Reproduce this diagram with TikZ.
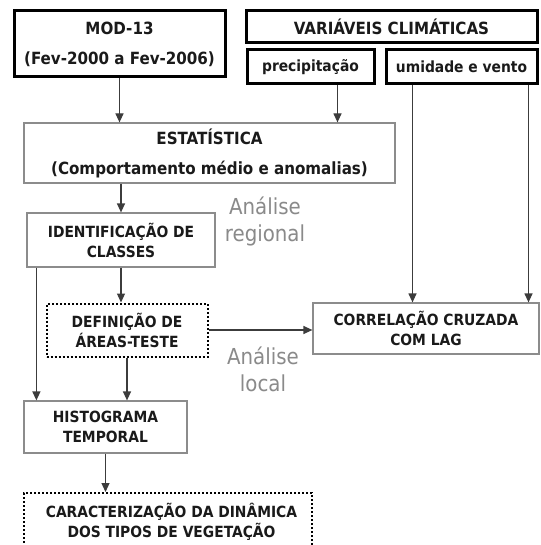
\documentclass[tikz,border=0pt]{standalone}
\usepackage{fontspec}
\setmainfont{DejaVu Sans Condensed}[BoldFont={DejaVu Sans Condensed Bold}]
\usetikzlibrary{arrows.meta}
\definecolor{txt}{HTML}{1A1A1A}
\definecolor{edge}{HTML}{8C8C8C}
\definecolor{arrow}{HTML}{3C3C3C}
\definecolor{note}{HTML}{8A8A8A}

\begin{document}
\begin{tikzpicture}[x=1pt,y=-1pt,
		box/.style={inner sep=0pt,align=center,text=txt,font=\bfseries\fontsize{15.4}{20}\selectfont},
		big/.style={font=\bfseries\fontsize{16.8}{20}\selectfont},
		thickbox/.style={box,draw=black,line width=3pt},
		thinbox/.style={box,draw=edge,line width=1.2pt},
		dotbox/.style={box,draw=black,line width=2pt,dotted},
		arr/.style={draw=arrow,line width=1.2pt,-{Triangle[length=9pt,width=8pt]}},
		note/.style={align=center,text=note,font=\fontsize{22}{27}\selectfont}]
		\useasboundingbox (0,0) rectangle (540,545);
		\fill[white] (0,0) rectangle (540,545);
		%
		\node[thickbox,big,minimum width=211pt,minimum height=66pt] (M) at (119.5,44) {MOD-13\\[10pt](Fev-2000 a Fev-2006)};
		\node[thickbox,big,minimum width=291pt,minimum height=32pt] (V) at (391.5,26.5) {VARIÁVEIS CLIMÁTICAS};
		\node[thickbox,minimum width=127pt,minimum height=34pt] (P) at (310.5,67) {precipitação};
		\node[thickbox,minimum width=151pt,minimum height=34pt] (U) at (461.5,67) {umidade e vento};
		%
		\node[thinbox,big,minimum width=371pt,minimum height=60pt] (Est) at (209.5,153) {ESTATÍSTICA\\[10pt](Comportamento médio e anomalias)};
		\node[thinbox,minimum width=188pt,minimum height=54pt] (Id) at (121,240) {IDENTIFICAÇÃO DE\\CLASSES};
		\node[dotbox,minimum width=161pt,minimum height=53pt] (Def) at (127,330) {DEFINIÇÃO DE\\ÁREAS-TESTE};
		\node[thinbox,minimum width=226pt,minimum height=51pt] (Corr) at (426,328.5) {CORRELAÇÃO CRUZADA\\COM LAG};
		\node[thinbox,minimum width=163pt,minimum height=52pt] (Hist) at (105.5,427) {HISTOGRAMA\\TEMPORAL};
		\node[dotbox,minimum width=288pt,minimum height=60pt,text depth=6pt] (Car) at (167.5,523) {\hspace*{8pt}CARACTERIZAÇÃO DA DINÂMICA\\\hspace*{8pt}DOS TIPOS DE VEGETAÇÃO};
		%
		\node[note] (Reg) at (265,221) {Análise\\regional};
		\node[note] (Loc) at (263,369) {Análise\\local};
		%
		\draw[arr] (M.south) -- (M.south |- Est.north);
		\draw[arr] ([xshift=27pt]P.south) -- ([xshift=27pt]P.south |- Est.north);
		\draw[arr] (Id.north |- Est.south) -- (Id.north);
		\draw[arr] (Id.south) -- (Id.south |- Def.north);
		\draw[arr] ([xshift=10pt]Id.south west) -- ([xshift=10pt]Id.south west |- Hist.north);
		\draw[arr] (Def.south) -- (Def.south |- Hist.north);
		\draw[arr] (Def.east) -- (Def.east -| Corr.west);
		\draw[arr] ([xshift=28pt]U.south west) -- ([xshift=28pt]U.south west |- Corr.north);
		\draw[arr] ([xshift=-10pt]U.south east) -- ([xshift=-10pt]U.south east |- Corr.north);
		\draw[arr] (Hist.south) -- (Hist.south |- Car.north);
	\end{tikzpicture}
\end{document}
